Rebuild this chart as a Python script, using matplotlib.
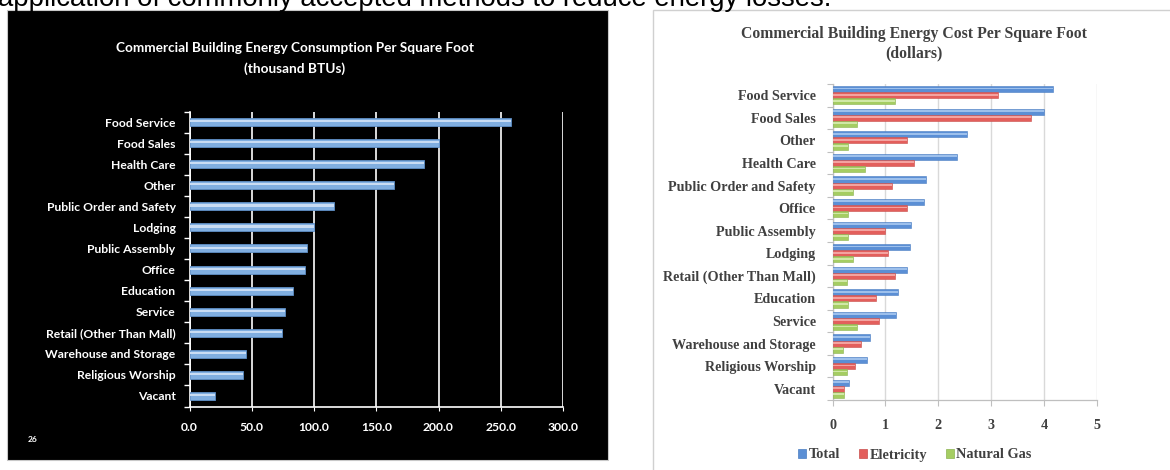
import matplotlib
matplotlib.use("Agg")
import matplotlib.pyplot as plt
from matplotlib.patches import Rectangle, Patch
import numpy as np

# ---------------- data ----------------
consumption_categories = ["Food Service", "Food Sales", "Health Care", "Other",
                          "Public Order and Safety", "Lodging", "Public Assembly",
                          "Office", "Education", "Service", "Retail (Other Than Mall)",
                          "Warehouse and Storage", "Religious Worship", "Vacant"]
consumption_values = [258, 200, 188, 164, 116, 100, 94, 93, 83, 77, 74, 45, 43, 20.5]
consumption_ticks = [0, 50, 100, 150, 200, 250, 300]
consumption_ticklabels = ["0.0", "50.0", "100.0", "150.0", "200.0", "250.0", "300.0"]

cost_categories = ["Food Service", "Food Sales", "Other", "Health Care",
                   "Public Order and Safety", "Office", "Public Assembly", "Lodging",
                   "Retail (Other Than Mall)", "Education", "Service",
                   "Warehouse and Storage", "Religious Worship", "Vacant"]
cost_total = [4.16, 4.00, 2.55, 2.36, 1.77, 1.73, 1.48, 1.47, 1.40, 1.24, 1.20, 0.70, 0.66, 0.31]
cost_electricity = [3.13, 3.75, 1.40, 1.54, 1.12, 1.40, 1.00, 1.04, 1.19, 0.82, 0.88, 0.53, 0.43, 0.22]
cost_gas = [1.18, 0.46, 0.29, 0.61, 0.38, 0.29, 0.29, 0.38, 0.27, 0.29, 0.46, 0.20, 0.27, 0.21]
cost_series_names = ["Total", "Eletricity", "Natural Gas"]
cost_ticks = [0, 1, 2, 3, 4, 5]

W, H = 1170, 470
def fx(x): return x / W
def fy(y): return 1 - y / H

fig = plt.figure(figsize=(W / 100, H / 100), dpi=100)
fig.patch.set_facecolor("white")

# top cut-off page text (only its lower part is visible, as in the reference)
fig.text(fx(-2), fy(6), "application of commonly accepted methods to reduce energy losses.",
         fontsize=19.8, family="Liberation Sans", color="black", ha="left", va="baseline")

# panels
fig.patches.append(Rectangle((fx(7), fy(460)), 601 / W, 450 / H, transform=fig.transFigure,
                             facecolor="black", edgecolor="#C8C8C8", lw=0.8, zorder=-10))
fig.patches.append(Rectangle((fx(653), fy(485)), 540 / W, 475 / H, transform=fig.transFigure,
                             facecolor="white", edgecolor="#D0D0D0", lw=1.0, zorder=-10))

# ---------------- left chart ----------------
lf = "Lato"
ax1 = fig.add_axes([fx(189.5), fy(406.5), 373.5 / W, 295 / H])
ax1.set_facecolor("black")
y1 = np.arange(len(consumption_categories))
ax1.barh(y1, consumption_values, height=0.38, color="#80AEE0", edgecolor="#5E8EC6",
         lw=0.6, zorder=3)
ax1.barh(y1 - 0.04, consumption_values, height=0.1, color="#C9DCF3", lw=0, zorder=4)
ax1.set_xlim(0, 300)
ax1.set_ylim(len(consumption_categories) - 0.5, -0.5)
ax1.set_xticks(consumption_ticks)
ax1.set_xticklabels(consumption_ticklabels)
ax1.set_yticks(y1)
ax1.set_yticklabels(consumption_categories)
ax1.set_yticks(np.arange(-0.5, len(consumption_categories), 1), minor=True)
ax1.tick_params(axis="y", which="major", length=0, pad=10, labelcolor="white", labelsize=8.7)
ax1.tick_params(axis="y", which="minor", length=4, color="white", width=1)
ax1.tick_params(axis="x", length=3, color="white", labelcolor="white", labelsize=8.7, pad=8)
for lab in ax1.get_yticklabels() + ax1.get_xticklabels():
    lab.set_family(lf)
    lab.set_fontweight("bold")
ax1.grid(axis="x", color="white", lw=1.2, zorder=1)
for s in ["top", "right"]:
    ax1.spines[s].set_visible(False)
for s in ["left", "bottom"]:
    ax1.spines[s].set_color("white")
    ax1.spines[s].set_linewidth(1.2)

fig.text(fx(295), fy(48), "Commercial Building Energy Consumption Per Square Foot",
         ha="center", va="center", color="white", fontsize=9.85, family=lf, fontweight="bold")
fig.text(fx(295), fy(69), "(thousand BTUs)", ha="center", va="center", color="white",
         fontsize=9.85, family=lf, fontweight="bold")
fig.text(fx(33), fy(439), "26", ha="center", va="center", color="white", fontsize=6,
         family=lf, fontweight="bold")

# ---------------- right chart ----------------
sf = "Liberation Serif"
tc = "#404040"
ax2 = fig.add_axes([fx(832.5), fy(400), 264.5 / W, 316 / H])
ax2.set_facecolor("white")
y2 = np.arange(len(cost_categories))
bh = 0.27
colors = ["#5B8FD5", "#E35F5C", "#A5CD62"]
highlights = ["#9DC0EC", "#F3A3A0", "#D0E8A6"]
edges = ["#4A7DC2", "#C94D4A", "#8CB350"]
for i, vals in enumerate([cost_total, cost_electricity, cost_gas]):
    pos = y2 + (i - 1) * bh
    ax2.barh(pos, vals, height=bh, color=colors[i], edgecolor=edges[i], lw=0.4, zorder=3)
    ax2.barh(pos - 0.03, vals, height=0.08, color=highlights[i], lw=0, zorder=4)
ax2.set_xlim(0, 5)
ax2.set_ylim(len(cost_categories) - 0.5, -0.5)
ax2.set_xticks(cost_ticks)
ax2.set_yticks(y2)
ax2.set_yticklabels(cost_categories)
ax2.set_yticks(np.arange(-0.5, len(cost_categories), 1), minor=True)
ax2.tick_params(axis="y", which="major", length=0, pad=12, labelcolor=tc, labelsize=10.2)
ax2.tick_params(axis="y", which="minor", length=4, color="#BFBFBF", width=0.8)
ax2.tick_params(axis="x", length=4, color="#BFBFBF", width=0.8, labelcolor=tc,
                labelsize=10.2, pad=10)
for lab in ax2.get_yticklabels() + ax2.get_xticklabels():
    lab.set_family(sf)
    lab.set_fontweight("bold")
ax2.grid(axis="x", color="#D9D9D9", lw=1.0, zorder=1)
for s in ["top", "right"]:
    ax2.spines[s].set_visible(False)
for s in ["left", "bottom"]:
    ax2.spines[s].set_color("#BFBFBF")
    ax2.spines[s].set_linewidth(0.9)

fig.text(fx(914), fy(34), "Commercial Building Energy Cost Per Square Foot",
         ha="center", va="center", color=tc, fontsize=11.3, family=sf, fontweight="bold")
fig.text(fx(914), fy(53), "(dollars)", ha="center", va="center", color=tc,
         fontsize=11.3, family=sf, fontweight="bold")

handles = [Patch(facecolor=c, edgecolor=e, lw=0.5) for c, e in zip(colors, edges)]
leg = fig.legend(handles, cost_series_names, loc="center", bbox_to_anchor=(fx(915), fy(455)),
                 ncol=3, frameon=False, handlelength=0.55, handleheight=0.55,
                 handletextpad=0.2, columnspacing=1.3,
                 prop={"family": sf, "weight": "bold", "size": 10.3})
for t in leg.get_texts():
    t.set_color(tc)

fig.savefig("out.png", dpi=100, facecolor="white")
